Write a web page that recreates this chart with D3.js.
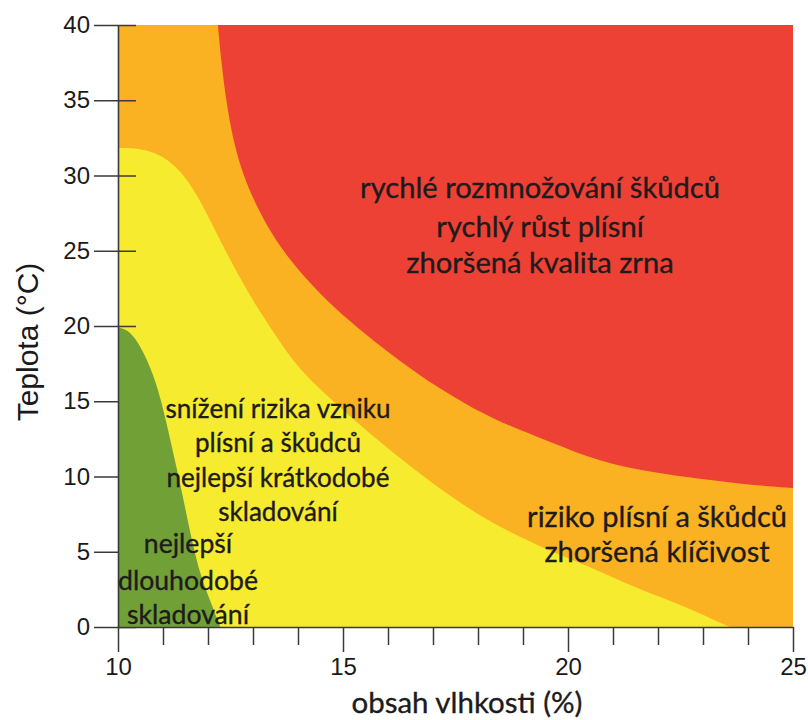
<!DOCTYPE html>
<html><head><meta charset="utf-8">
<script src="https://cdn.jsdelivr.net/npm/d3@7/dist/d3.min.js"></script>
<style>body{margin:0;background:#fff}</style>
</head><body>
<svg id="chart" width="808" height="720"></svg>
<script>
// ---- data ----
const xMajorTicks = [10, 15, 20, 25];
const xMinorTicks = [11, 12, 13, 14, 16, 17, 18, 19, 21, 22, 23, 24];
const yTicks = [0, 5, 10, 15, 20, 25, 30, 35, 40];
const xLabel = "obsah vlhkosti (%)";
const yLabel = "Teplota (°C)";
// zone boundaries [moisture %, temperature °C]
const redBoundary = [[12.22,40],[12.29,37.67],[12.4,35.02],[12.556,32.36],[12.778,30.03],[13.067,28.04],[13.422,26.05],[13.867,24.19],[14.444,22.26],[15.156,20.27],[15.933,18.41],[16.711,16.68],[17.489,15.22],[18.267,13.89],[19.6,12.29],[20.711,10.96],[21.822,10.3],[22.933,9.83],[24.044,9.44],[25,9.24]];
const yellowBoundary = [[10,31.83],[10.378,31.83],[10.711,31.63],[11.111,31.1],[11.489,29.97],[11.822,28.37],[12.111,26.64],[12.4,24.92],[12.711,23.19],[13.044,21.46],[13.422,19.73],[13.867,17.74],[14.378,16.08],[15.044,14.29],[15.822,12.29],[16.6,10.43],[17.378,8.7],[18.156,7.18],[18.933,5.98],[19.711,4.92],[20.489,3.99],[21.267,2.92],[22.044,2.0],[22.711,1.2],[23.2,0.53],[23.6,0]];
const greenBoundary = [[10,19.9],[10.16,19.8],[10.38,19.3],[10.73,17.3],[10.96,15.1],[11.18,12.2],[11.4,9.3],[11.62,6.0],[11.84,3.3],[12.07,1.6],[12.27,0]];
const redText = ["rychlé rozmnožování škůdců", "rychlý růst plísní", "zhoršená kvalita zrna"];
const orangeText = ["riziko plísní a škůdců", "zhoršená klíčivost"];
const yellowText = ["snížení rizika vzniku", "plísní a škůdců", "nejlepší krátkodobé", "skladování"];
const greenText = ["nejlepší", "dlouhodobé", "skladování"];

// ---- layout ----
const svg = d3.select("#chart");
const x = d3.scaleLinear().domain([10, 25]).range([118, 793]);
const y = d3.scaleLinear().domain([0, 40]).range([627, 25]);
const col = {orange: "#FAB122", red: "#EE4136", yellow: "#F6EB2E", green: "#70A036", ink: "#1e1b1c", axis: "#3a3a3a"};

svg.append("defs").append("clipPath").attr("id", "plot")
  .append("rect").attr("x", x(10)).attr("y", y(40)).attr("width", x(25) - x(10)).attr("height", y(0) - y(40));

const line = d3.line().x(d => x(d[0])).y(d => y(d[1])).curve(d3.curveBasis);
const g = svg.append("g").attr("clip-path", "url(#plot)");

g.append("rect").attr("x", x(10)).attr("y", y(40)).attr("width", x(25) - x(10)).attr("height", y(0) - y(40)).attr("fill", col.orange);
g.append("path").attr("d", line(redBoundary) + `L${x(25)},${y(40)}Z`).attr("fill", col.red);
g.append("path").attr("d", line(yellowBoundary) + `L${x(10)},${y(0)}Z`).attr("fill", col.yellow);

// inner tick marks (under green zone)
svg.append("g").attr("transform", `translate(${x(10)},0)`)
  .call(d3.axisRight(y).tickValues(yTicks).tickSize(18).tickFormat(""))
  .call(s => { s.select(".domain").remove(); s.selectAll("line").attr("stroke", col.axis).attr("stroke-width", 1.5); });

svg.append("g").attr("clip-path", "url(#plot)")
  .append("path").attr("d", line(greenBoundary) + `L${x(10)},${y(0)}Z`).attr("fill", col.green);

// axes
const yAxis = svg.append("g").attr("transform", `translate(${x(10)},0)`)
  .call(d3.axisLeft(y).tickValues(yTicks).tickSize(24).tickSizeOuter(0).tickPadding(4));
const xMinor = svg.append("g").attr("transform", `translate(0,${y(0)})`)
  .call(d3.axisBottom(x).tickValues(xMinorTicks).tickSize(18).tickSizeOuter(0).tickFormat(""));
xMinor.select(".domain").remove();
const xAxis = svg.append("g").attr("transform", `translate(0,${y(0)})`)
  .call(d3.axisBottom(x).tickValues(xMajorTicks).tickSize(25).tickSizeOuter(0).tickPadding(6));
[yAxis, xAxis, xMinor].forEach(a => {
  a.selectAll("line").attr("stroke", col.axis).attr("stroke-width", 1.5);
  a.selectAll(".domain").attr("stroke", col.axis).attr("stroke-width", 1.6);
  a.selectAll("text").attr("font-family", "Liberation Sans, Arial, sans-serif").attr("font-size", 24).attr("fill", "#1a1a1a");
});

// axis titles
svg.append("text").attr("transform", "translate(38,342) rotate(-90)")
  .attr("text-anchor", "middle").attr("font-family", "Liberation Sans, Arial, sans-serif")
  .attr("font-size", 30).attr("fill", "#1a1a1a").text(yLabel);

function fitBlock(lines, cx, baselines, targetWidth, family) {
  const grp = svg.append("g").attr("font-family", family).attr("fill", col.ink)
    .attr("stroke", col.ink).attr("stroke-width", 0.35).attr("text-anchor", "middle");
  const probe = grp.append("text").attr("font-size", 20);
  let widest = 0;
  lines.forEach(l => { probe.text(l); widest = Math.max(widest, probe.node().getComputedTextLength()); });
  probe.remove();
  const fs = 20 * targetWidth / widest;
  lines.forEach((l, i) => grp.append("text").attr("x", cx).attr("y", baselines[i]).attr("font-size", fs).text(l));
}
const f = "Lato, 'Open Sans', sans-serif";
fitBlock([xLabel], 467, [713], 231, f);
fitBlock(redText, 540, [198, 237, 273], 360, f);
fitBlock(orangeText, 657, [527, 562], 260, f);
fitBlock(yellowText, 278, [418, 452, 487, 521], 225, f);
fitBlock(greenText, 188, [553, 590, 624], 140, f);
</script>
</body></html>
